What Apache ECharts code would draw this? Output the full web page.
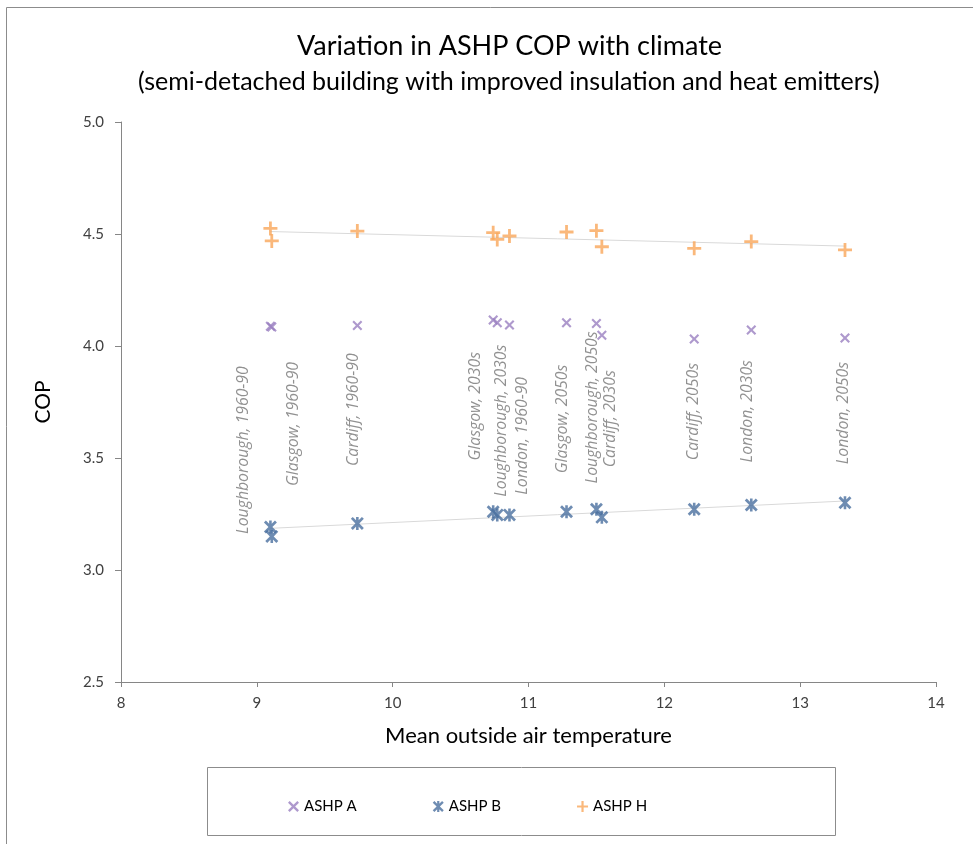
<!DOCTYPE html>
<html>
<head>
<meta charset="utf-8">
<script src="https://cdn.jsdelivr.net/npm/echarts@6/dist/echarts.min.js"></script>
<style>
  html, body { margin:0; padding:0; background:#fff; }
  #chart { width:973px; height:844px; }
</style>
</head>
<body>
<div id="chart"></div>
<script>
// ---- data ----
var stations = ["Loughborough, 1960-90","Glasgow, 1960-90","Cardiff, 1960-90",
                "Glasgow, 2030s","Loughborough, 2030s","London, 1960-90",
                "Glasgow, 2050s","Loughborough, 2050s","Cardiff, 2030s",
                "Cardiff, 2050s","London, 2030s","London, 2050s"];
var temps = [9.10, 9.11, 9.74, 10.74, 10.77, 10.86, 11.28, 11.50, 11.54, 12.22, 12.64, 13.33];
var copA  = [4.088, 4.085, 4.092, 4.116, 4.104, 4.094, 4.104, 4.101, 4.048, 4.031, 4.071, 4.036];
var copB  = [3.192, 3.150, 3.208, 3.260, 3.246, 3.246, 3.260, 3.271, 3.235, 3.271, 3.290, 3.300];
var copH  = [4.525, 4.469, 4.513, 4.506, 4.476, 4.491, 4.509, 4.515, 4.443, 4.436, 4.466, 4.429];
// trendline end points (as drawn in the reference)
var trendH = [[9.10, 4.511], [13.33, 4.446]];
var trendB = [[9.10, 3.186], [13.33, 3.308]];
var xTicks = [8, 14, 1];
var yTicks = [2.5, 5.0, 0.5];

// label placement: screen shift (px) of the label's top end from its ASHP A point
var labelShift = [[-27,40],[22,35],[-4,28],[-18,32],[4,22],[13,52],
                  [-4,42],[-4,8],[9,35],[-1,24],[-4,30],[-1,24]];

var symPlus = 'path://M4,0H6V4H10V6H6V10H4V6H0V4H4Z';
var symX    = 'path://M0,1.5L1.5,0L5,3.5L8.5,0L10,1.5L6.5,5L10,8.5L8.5,10L5,6.5L1.5,10L0,8.5L3.5,5Z';
var symStar = 'path://M0,1.5L1.5,0L5,3.5L8.5,0L10,1.5L6.5,5L10,8.5L8.5,10L5,6.5L1.5,10L0,8.5L3.5,5Z M4,0H6V10H4Z';

var colA = '#9a80c0', colB = '#4a6f9f', colH = '#f9a65a';
var axisCol = '#868686', tickTxt = '#404040';

function pairs(ys){ return temps.map(function(t,i){ return [t, ys[i]]; }); }

var dataA = temps.map(function(t,i){
  var s = labelShift[i];
  return {
    value: [t, copA[i]],
    label: { show:true, formatter: stations[i], offset: [-s[1], s[0]] }
  };
});

var chart = echarts.init(document.getElementById('chart'));
chart.setOption({
  animation: false,
  textStyle: { fontFamily: 'Lato' },
  title: [
    { text: 'Variation in ASHP COP with climate', left: 292, top: 28,
      textStyle: { fontFamily:'Lato', fontSize: 27, fontWeight:'normal', color:'#000' } },
    { text: '(semi-detached building with improved insulation and heat emitters)', left: 133, top: 64,
      textStyle: { fontFamily:'Lato', fontSize: 25, fontWeight:'normal', color:'#000' } }
  ],
  graphic: [
    { type:'rect', shape:{ x:6.5, y:7.5, width:1000, height:900 }, style:{ fill:'none', stroke:'#8c8c8c', lineWidth:1 }, silent:true },
    { type:'rect', shape:{ x:207.5, y:767.5, width:628, height:68 }, style:{ fill:'none', stroke:'#8c8c8c', lineWidth:1 }, silent:true }
  ],
  legend: {
    data: [
      { name:'ASHP A', icon: symX },
      { name:'ASHP B', icon: symStar },
      { name:'ASHP H', icon: symPlus }
    ],
    left: 283, top: 794, itemWidth: 11, itemHeight: 11, itemGap: 76,
    textStyle: { fontFamily:'Lato', fontSize: 15, color:'#000' }
  },
  grid: { left: 121, right: 37, top: 122, bottom: 162 },
  xAxis: {
    type:'value', min: xTicks[0], max: xTicks[1], interval: xTicks[2],
    name: 'Mean outside air temperature', nameLocation:'middle', nameGap: 43,
    nameTextStyle: { fontFamily:'Lato', fontSize: 22, color:'#000' },
    axisLine: { show:true, lineStyle:{ color: axisCol } },
    axisTick: { show:true, length:5, lineStyle:{ color: axisCol } },
    axisLabel: { color: tickTxt, fontSize: 15, margin: 14, fontFamily:'Lato' },
    splitLine: { show:false }
  },
  yAxis: {
    type:'value', min: yTicks[0], max: yTicks[1], interval: yTicks[2],
    name: 'COP', nameLocation:'middle', nameGap: 67, nameRotate: 90,
    nameTextStyle: { fontFamily:'Lato', fontSize: 21, color:'#000' },
    axisLine: { show:true, lineStyle:{ color: axisCol } },
    axisTick: { show:true, length:6, lineStyle:{ color: axisCol } },
    axisLabel: { color: tickTxt, fontSize: 15, margin: 17, fontFamily:'Lato',
                 formatter: function(v){ return v.toFixed(1); } },
    splitLine: { show:false }
  },
  series: [
    { name:'trend H', type:'line', data: trendH, symbol:'none', silent:true,
      lineStyle:{ color:'#d9d9d9', width:1 }, z:1 },
    { name:'trend B', type:'line', data: trendB, symbol:'none', silent:true,
      lineStyle:{ color:'#d9d9d9', width:1 }, z:1 },
    { name:'ASHP A', type:'scatter', data: dataA, symbol: symX, symbolSize: 10,
      itemStyle:{ color: colA },
      label: { position:'inside', rotate: 90, align:'right', verticalAlign:'middle',
               fontFamily:'Open Sans', fontStyle:'italic', fontSize: 15.8, color:'#767676' },
      z:3 },
    { name:'ASHP B', type:'scatter', data: pairs(copB), symbol: symStar, symbolSize: 13,
      itemStyle:{ color: colB }, z:3 },
    { name:'ASHP H', type:'scatter', data: pairs(copH), symbol: symPlus, symbolSize: 14,
      itemStyle:{ color: colH }, z:3 }
  ]
});
</script>
</body>
</html>
